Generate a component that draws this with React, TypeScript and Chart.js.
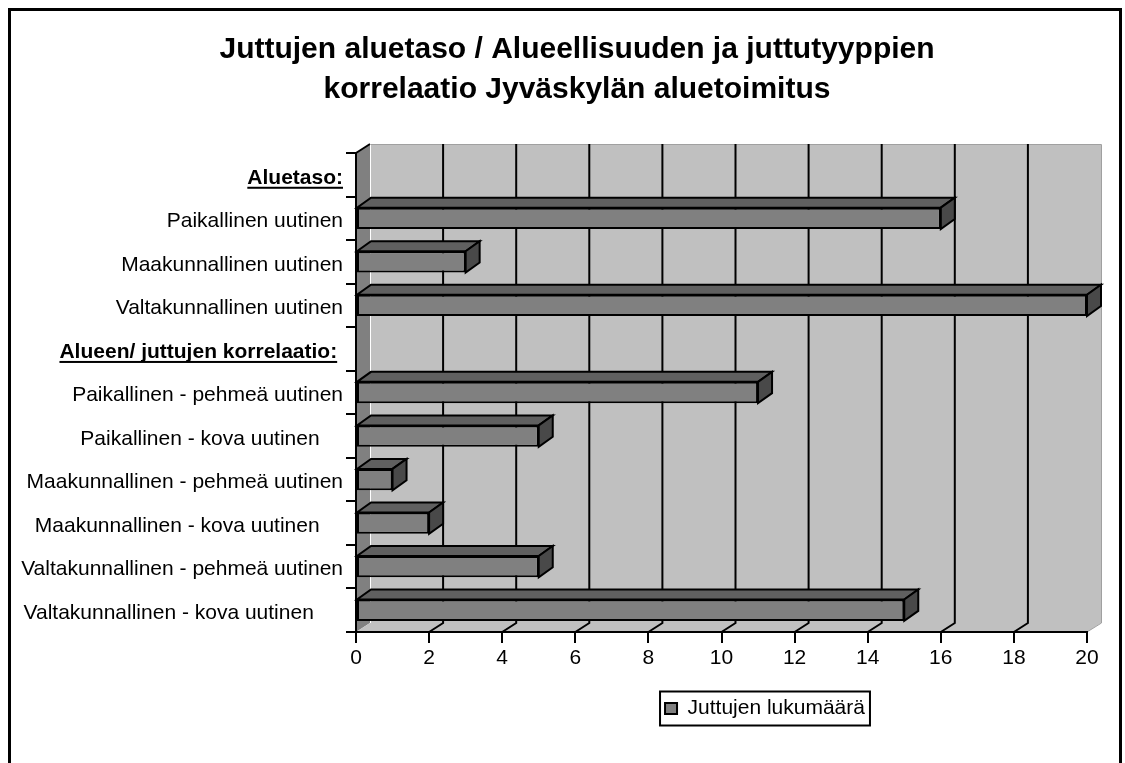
import React, { useEffect, useRef } from 'react';
import { Chart, registerables } from 'chart.js';

Chart.register(...registerables);

const FONT = '"Liberation Sans", Arial, Helvetica, sans-serif';

const titleLines = [
  'Juttujen aluetaso / Alueellisuuden ja juttutyyppien',
  'korrelaatio Jyväskylän aluetoimitus',
];

const categories = [
  'Aluetaso:',
  'Paikallinen uutinen',
  'Maakunnallinen uutinen',
  'Valtakunnallinen uutinen',
  'Alueen/ juttujen korrelaatio: ',
  'Paikallinen - pehmeä uutinen',
  'Paikallinen - kova uutinen    ',
  'Maakunnallinen - pehmeä uutinen',
  'Maakunnallinen - kova uutinen    ',
  'Valtakunnallinen - pehmeä uutinen',
  'Valtakunnallinen - kova uutinen     ',
];

const headingIndexes = [0, 4];

const seriesName = 'Juttujen lukumäärä';
const seriesValues: (number | null)[] = [null, 16, 3, 20, null, 11, 5, 1, 2, 5, 15];

const xTicks = [0, 2, 4, 6, 8, 10, 12, 14, 16, 18, 20];

const WALL_DX = 14;
const WALL_DY = -9;
const BAR_DX = 14;
const BAR_DY = -10;
const Y_TICK_LEN = 10;
const Y_PAD = 3;
const LABEL_OFFSET = 3;
const LABEL_SIZE = 21;

function poly(ctx: CanvasRenderingContext2D, pts: number[][], fill: string | null, stroke: string | null, lw = 2) {
  ctx.beginPath();
  ctx.moveTo(pts[0][0], pts[0][1]);
  for (let i = 1; i < pts.length; i++) ctx.lineTo(pts[i][0], pts[i][1]);
  ctx.closePath();
  if (fill) {
    ctx.fillStyle = fill;
    ctx.fill();
  }
  if (stroke) {
    ctx.strokeStyle = stroke;
    ctx.lineWidth = lw;
    ctx.lineJoin = 'miter';
    ctx.stroke();
  }
}

const threeDPlugin = {
  id: 'threeD',
  afterLayout(chart: any) {
    const lg = chart.legend;
    if (lg) {
      const w = lg.width;
      const h = lg.height;
      lg.left = 754 - w / 2;
      lg.right = lg.left + w;
      lg.top = 677;
      lg.bottom = 677 + h;
    }
    const tb = chart.titleBlock;
    if (tb) {
      const w = tb.width;
      tb.left = 566 - w / 2;
      tb.right = tb.left + w;
    }
  },
  beforeDraw(chart: any) {
    const ctx: CanvasRenderingContext2D = chart.ctx;
    const { left: L, right: R, top: T, bottom: B } = chart.chartArea;
    const xs = chart.scales.x;
    ctx.save();
    // back wall
    ctx.fillStyle = '#c0c0c0';
    ctx.fillRect(L + WALL_DX, T + WALL_DY, R - L, B - T);
    // left wall
    poly(ctx, [[L, T], [L + WALL_DX, T + WALL_DY], [L + WALL_DX, B + WALL_DY], [L, B]], '#808080', null);
    // floor
    poly(ctx, [[L, B], [R, B], [R + WALL_DX, B + WALL_DY], [L + WALL_DX, B + WALL_DY]], '#c0c0c0', null);
    // wall edges
    ctx.strokeStyle = '#a0a0a0';
    ctx.lineWidth = 1;
    ctx.beginPath();
    ctx.moveTo(L + WALL_DX, T + WALL_DY + 0.5);
    ctx.lineTo(R + WALL_DX + 0.5, T + WALL_DY + 0.5);
    ctx.lineTo(R + WALL_DX + 0.5, B + WALL_DY);
    ctx.lineTo(R, B);
    ctx.stroke();
    ctx.strokeStyle = '#ffffff';
    ctx.beginPath();
    ctx.moveTo(L + WALL_DX + 0.5, T + WALL_DY);
    ctx.lineTo(L + WALL_DX + 0.5, B + WALL_DY);
    ctx.stroke();
    ctx.strokeStyle = '#000000';
    ctx.lineWidth = 2;
    ctx.beginPath();
    ctx.moveTo(L, T);
    ctx.lineTo(L + WALL_DX, T + WALL_DY);
    ctx.stroke();
    // gridlines on back wall and floor
    ctx.strokeStyle = '#000000';
    ctx.lineWidth = 2;
    xTicks.forEach((v) => {
      if (v <= xTicks[0] || v >= xTicks[xTicks.length - 1]) return;
      const px = xs.getPixelForValue(v);
      ctx.beginPath();
      ctx.moveTo(px + WALL_DX, T + WALL_DY);
      ctx.lineTo(px + WALL_DX, B + WALL_DY);
      ctx.lineTo(px, B);
      ctx.stroke();
    });
    ctx.restore();
  },
  afterDatasetsDraw(chart: any) {
    const ctx: CanvasRenderingContext2D = chart.ctx;
    const meta = chart.getDatasetMeta(0);
    ctx.save();
    meta.data.forEach((bar: any, i: number) => {
      if (seriesValues[i] == null) return;
      const { x, y, base, height } = bar.getProps(['x', 'y', 'base', 'height'], true);
      const top = y - height / 2;
      const bottom = y + height / 2;
      const l = Math.min(base, x);
      const r = Math.max(base, x);
      poly(ctx, [[l, top], [r, top], [r + BAR_DX, top + BAR_DY], [l + BAR_DX, top + BAR_DY]], '#606060', '#000000');
      poly(ctx, [[r, top], [r + BAR_DX, top + BAR_DY], [r + BAR_DX, bottom + BAR_DY], [r, bottom]], '#494949', '#000000');
    });
    ctx.restore();
  },
  afterDraw(chart: any) {
    const ctx: CanvasRenderingContext2D = chart.ctx;
    const ys = chart.scales.y;
    const L = chart.chartArea.left;
    ctx.save();
    ctx.font = `bold ${LABEL_SIZE}px ${FONT}`;
    ctx.fillStyle = '#000000';
    headingIndexes.forEach((i) => {
      const label = categories[i];
      const trimmed = label.replace(/\s+$/, '');
      const full = ctx.measureText(label).width;
      const tw = ctx.measureText(trimmed).width;
      const xRight = L - Y_TICK_LEN - Y_PAD;
      const xStart = xRight - full;
      const yy = ys.getPixelForTick(i) + LABEL_OFFSET + 9;
      ctx.fillRect(xStart, yy, tw, 2);
    });
    // legend border
    const lg = chart.legend;
    if (lg && lg.legendHitBoxes && lg.legendHitBoxes.length) {
      const hb = lg.legendHitBoxes[0];
      const cy = hb.top + hb.height / 2;
      ctx.strokeStyle = '#000000';
      ctx.lineWidth = 2;
      ctx.strokeRect(hb.left - 5, cy - 17, hb.width + 10, 34);
    }
    ctx.restore();
  },
};

export default function App() {
  const ref = useRef<HTMLCanvasElement | null>(null);

  useEffect(() => {
    if (!ref.current) return;
    const chart = new Chart(ref.current, {
      type: 'bar',
      data: {
        labels: categories,
        datasets: [
          {
            label: seriesName,
            data: seriesValues,
            backgroundColor: '#808080',
            borderColor: '#000000',
            borderWidth: 2,
            borderSkipped: false,
            barPercentage: 0.49,
            categoryPercentage: 1,
          },
        ],
      },
      options: {
        indexAxis: 'y',
        responsive: false,
        maintainAspectRatio: false,
        animation: false,
        devicePixelRatio: 1,
        layout: { padding: { left: 0, right: 32, top: 0, bottom: 40 } },
        plugins: {
          title: {
            display: true,
            text: titleLines,
            color: '#000000',
            font: { family: FONT, size: 30, weight: 'bold', lineHeight: 40 / 30 },
            padding: { top: 19, bottom: 43 },
          },
          legend: {
            display: true,
            position: 'bottom',
            labels: {
              color: '#000000',
              font: { family: FONT, size: LABEL_SIZE },
              boxWidth: 12,
              boxHeight: 11,
              padding: 10,
            },
          },
          tooltip: { enabled: false },
        },
        scales: {
          x: {
            type: 'linear',
            min: 0,
            max: 20,
            afterBuildTicks: (scale: any) => {
              scale.ticks = xTicks.map((v) => ({ value: v }));
            },
            afterFit: (scale: any) => {
              scale.height = 50;
            },
            grid: {
              drawOnChartArea: false,
              drawTicks: true,
              tickLength: 11,
              color: '#000000',
              lineWidth: 2,
            },
            border: { display: true, color: '#000000', width: 2 },
            ticks: {
              color: '#000000',
              font: { family: FONT, size: LABEL_SIZE },
              padding: 3,
              maxRotation: 0,
            },
          },
          y: {
            type: 'category',
            afterFit: (scale: any) => {
              scale.width = 345;
            },
            grid: {
              drawOnChartArea: false,
              drawTicks: true,
              tickLength: Y_TICK_LEN,
              color: '#000000',
              lineWidth: 2,
              offset: true,
            },
            border: { display: true, color: '#000000', width: 2 },
            ticks: {
              color: '#000000',
              padding: Y_PAD,
              labelOffset: LABEL_OFFSET,
              autoSkip: false,
              font: (c: any) =>
                headingIndexes.includes(c.index)
                  ? { family: FONT, size: LABEL_SIZE, weight: 'bold' }
                  : { family: FONT, size: LABEL_SIZE },
            },
          },
        },
      },
      plugins: [threeDPlugin],
    } as any);
    return () => chart.destroy();
  }, []);

  return (
    <div style={{ position: 'absolute', left: 0, top: 0, width: 1125, height: 763, overflow: 'hidden', background: '#fff' }}>
      <div
        style={{
          position: 'absolute',
          left: 8,
          top: 8,
          width: 1108,
          height: 770,
          border: '3px solid #000',
          background: '#fff',
        }}
      >
        <canvas ref={ref} width={1108} height={752} style={{ display: 'block' }} />
      </div>
    </div>
  );
}
